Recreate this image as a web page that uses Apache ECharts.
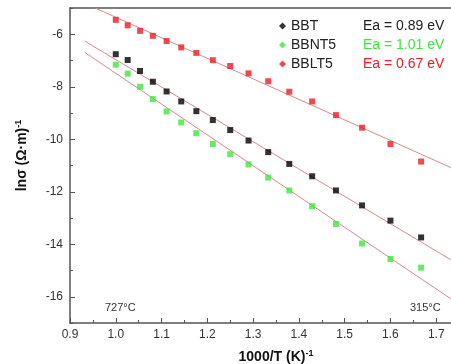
<!DOCTYPE html>
<html>
<head>
<meta charset="utf-8">
<script src="https://cdn.jsdelivr.net/npm/echarts@6/dist/echarts.min.js"></script>
<style>
  html, body { margin: 0; padding: 0; background: #fff; }
  #chart { width: 451px; height: 364px; }
</style>
</head>
<body>
<div id="chart"></div>
<script>
// 1000/T values (K^-1), T = 1000 K down to 600 K in 25 K steps
const invT = [1.000, 1.026, 1.053, 1.081, 1.111, 1.143, 1.176, 1.212, 1.250,
  1.290, 1.333, 1.379, 1.429, 1.481, 1.538, 1.600, 1.667];

// ln(sigma)
const bbt = [-6.76, -6.98, -7.40, -7.81, -8.18, -8.56, -8.93, -9.27, -9.65,
  -10.05, -10.49, -10.94, -11.41, -11.95, -12.52, -13.10, -13.74];
const bbnt5 = [-7.16, -7.50, -8.00, -8.47, -8.94, -9.36, -9.77, -10.18, -10.57,
  -10.96, -11.46, -11.95, -12.55, -13.23, -13.97, -14.56, -14.89];
const bblt5 = [-5.45, -5.66, -5.87, -6.06, -6.26, -6.50, -6.71, -6.99, -7.21,
  -7.49, -7.79, -8.19, -8.56, -9.08, -9.56, -10.18, -10.85];

// Arrhenius fit lines, end points
const fitBBT = [[0.933, -6.27], [1.75, -14.78]];
const fitBBNT5 = [[0.933, -6.70], [1.75, -16.29]];
const fitBBLT5 = [[0.955, -5.00], [1.75, -11.22]];

// y ticks: labelled majors and small minors
const yMajor = [-16, -14, -12, -10, -8, -6];
const yMinor = [-17, -15, -13, -11, -9, -7, -5];

const names = ['BBT', 'BBNT5', 'BBLT5'];
const activation = ['Ea = 0.89 eV', 'Ea = 1.01 eV', 'Ea = 0.67 eV'];
const colors = ['#000000', '#3ee63e', '#ee1c24'];
const fitColor = '#d98a88';

const chart = echarts.init(document.getElementById('chart'));
const font = 'Liberation Sans, Arial, sans-serif';
const axisGray = '#555';

const pair = ys => invT.map((x, i) => [x, ys[i]]);

const scatter = (name, ys, color) => ({
  name, type: 'scatter', data: pair(ys),
  symbol: 'rect', symbolSize: 6,
  itemStyle: { color },
  z: 3,
});

const fit = data => ({
  type: 'line', data, symbol: 'none',
  lineStyle: { color: fitColor, width: 1 },
  silent: true, z: 2,
});

const rich = { n: { width: 72, fontSize: 14, lineHeight: 14, color: '#222', fontFamily: font } };
colors.forEach((c, i) => {
  rich['e' + i] = { fontSize: 14, lineHeight: 14, color: i === 0 ? '#222' : c, fontFamily: font };
});

const nameRich = {
  t: { fontSize: 14, fontWeight: 'bold', color: '#111', fontFamily: font },
  s: { fontSize: 9, fontWeight: 'bold', color: '#111', fontFamily: font, padding: [0, 0, 7, 0] },
};

chart.setOption({
  animation: false,
  textStyle: { fontFamily: font },
  grid: { left: 70, right: -31, top: 8, bottom: 41, outerBoundsMode: 'none' },
  legend: {
    data: names.map(n => ({ name: n, icon: 'diamond' })),
    orient: 'vertical', left: 274, top: 14, itemGap: 5,
    itemWidth: 7, itemHeight: 7,
    formatter: n => {
      const i = names.indexOf(n);
      return `{n|${n}}{e${i}|${activation[i]}}`;
    },
    textStyle: { rich },
  },
  xAxis: [{
    type: 'value', min: 0.9, max: 1.8, interval: 0.1,
    name: '{t|1000/T (K)}{s|-1}', nameLocation: 'middle', nameGap: 26,
    nameTextStyle: { rich: nameRich },
    axisLine: { onZero: false, lineStyle: { color: axisGray, width: 1.5 } },
    axisTick: { inside: true, length: 5, lineStyle: { color: axisGray } },
    minorTick: { show: true, splitNumber: 2, length: 3, lineStyle: { color: axisGray } },
    axisLabel: { color: '#333', fontSize: 12, margin: 6, formatter: v => v.toFixed(1) },
    splitLine: { show: false },
  }, {
    type: 'value', position: 'top', min: 0.9, max: 1.8,
    axisLine: { show: true, lineStyle: { color: axisGray, width: 1.5 } },
    axisTick: { show: false }, axisLabel: { show: false }, splitLine: { show: false },
  }],
  yAxis: [{
    type: 'value', min: -17, max: -5, interval: 1,
    name: '{t|lnσ (Ω·m)}{s|-1}', nameLocation: 'middle', nameGap: 40,
    nameTextStyle: { rich: nameRich, padding: [0, 0, 0, 20] },
    axisLine: { show: true, onZero: false, lineStyle: { color: axisGray, width: 1.5 } },
    axisTick: { inside: true, length: 5, customValues: yMajor, lineStyle: { color: axisGray } },
    axisLabel: { color: '#333', fontSize: 12, margin: 7, customValues: yMajor },
    splitLine: { show: false },
  }, {
    type: 'value', position: 'left', min: -17, max: -5, interval: 1,
    axisLine: { show: false },
    axisTick: { show: true, inside: true, length: 3, customValues: yMinor, lineStyle: { color: axisGray } },
    axisLabel: { show: false }, splitLine: { show: false },
  }],
  graphic: [
    { type: 'text', left: 105, top: 302, style: { text: '727°C', fontSize: 11, fill: '#333', fontFamily: font } },
    { type: 'text', left: 410, top: 302, style: { text: '315°C', fontSize: 11, fill: '#333', fontFamily: font } },
  ],
  series: [
    fit(fitBBT), fit(fitBBNT5), fit(fitBBLT5),
    scatter(names[0], bbt, colors[0]),
    scatter(names[1], bbnt5, colors[1]),
    scatter(names[2], bblt5, colors[2]),
  ],
});
</script>
</body>
</html>
